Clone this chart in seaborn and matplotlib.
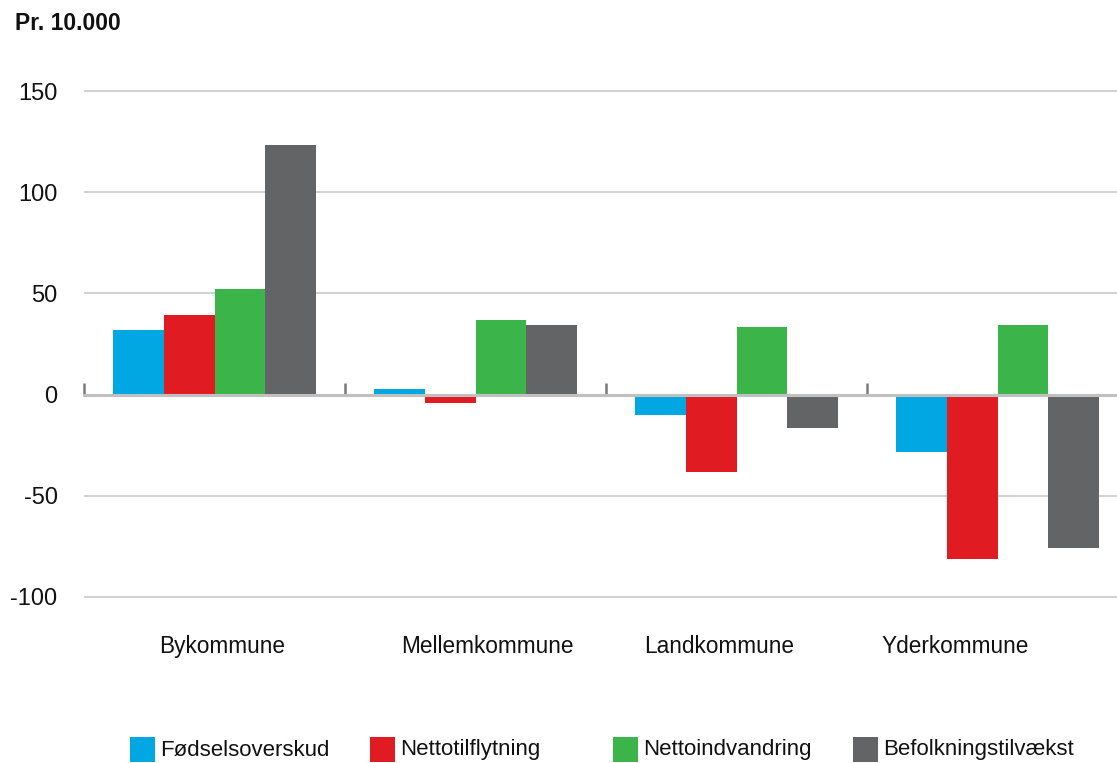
import matplotlib
matplotlib.use("Agg")
import matplotlib.pyplot as plt
import matplotlib.transforms as mtrans
import seaborn as sns
import pandas as pd

categories = ["Bykommune", "Mellemkommune", "Landkommune", "Yderkommune"]
series = ["Fødselsoverskud", "Nettotilflytning", "Nettoindvandring", "Befolkningstilvækst"]
foedsel = [31.9, 2.8, -10.1, -28.4]
nettotil = [39.3, -4.0, -38.2, -81.1]
nettoind = [52.2, 36.9, 33.4, 34.4]
befolk = [123.3, 34.4, -16.3, -75.8]
colors = ["#00a7e3", "#e11b22", "#3bb54a", "#636466"]
yticks = [-100, -50, 0, 50, 100, 150]

rows = []
for s, vals in zip(series, [foedsel, nettotil, nettoind, befolk]):
    for c, v in zip(categories, vals):
        rows.append({"kategori": c, "serie": s, "værdi": v})
df = pd.DataFrame(rows)

sns.set_style("white")
plt.rcParams["font.family"] = ["Liberation Sans", "DejaVu Sans"]

fig = plt.figure(figsize=(11.17, 7.63), dpi=100)
ax = fig.add_axes([84 / 1117, 0.2123, 1044 / 1117, 0.6737])

sns.barplot(data=df, x="kategori", y="værdi", hue="serie", order=categories,
            hue_order=series, palette=colors, width=0.78, saturation=1,
            legend=False, ax=ax, zorder=2, linewidth=0)

ax.set_xlim(-0.5, 3.5)
ax.set_ylim(-102, 152)
ax.set_yticks(yticks)
ax.set_yticklabels([str(t) for t in yticks], fontsize=17, color="#111111")
ax.yaxis.grid(True, color="#cacaca", linewidth=1.2, zorder=0)
ax.set_axisbelow(True)
for sp in ["top", "right", "left"]:
    ax.spines[sp].set_visible(False)
ax.spines["bottom"].set_position(("data", 0))
ax.spines["bottom"].set_color("#c0c0c0")
ax.spines["bottom"].set_linewidth(2.2)
ax.spines["bottom"].set_zorder(5)

ax.tick_params(axis="y", length=0, pad=19)
ax.set_xticks(range(len(categories)))
ax.set_xticklabels(categories, fontsize=16.3, color="#111111")
ax.tick_params(axis="x", which="major", length=0, pad=173, bottom=True)
ax.set_xticks([-0.5, 0.5, 1.5, 2.5], minor=True)
ax.tick_params(axis="x", which="minor", direction="in", length=9, width=1.8,
               color="#7a7a7a", bottom=True)
ax.set_xlabel("")
ax.set_ylabel("")

# shift category labels horizontally as in the reference
label_dx = [8, 12, -17, -42]
for lbl, dx in zip(ax.get_xticklabels(), label_dx):
    lbl.set_transform(lbl.get_transform() +
                      mtrans.ScaledTranslation(dx / 100, 0, fig.dpi_scale_trans))

fig.text(15 / 1117, 1 - 23 / 763, "Pr. 10.000", fontsize=16.5, fontweight="bold",
         va="center", ha="left", color="#111111")

xs = [130, 370, 613, 853]
for s, x, c in zip(series, xs, colors):
    fig.patches.append(matplotlib.patches.Rectangle(
        (x / 1117, 1 - 762 / 763), 25 / 1117, 25 / 763,
        transform=fig.transFigure, facecolor=c, edgecolor="none"))
    fig.text((x + 30) / 1117, 1 - 750 / 763, s, fontsize=16, va="center",
             ha="left", color="#111111")

fig.savefig("out.png", dpi=100)
